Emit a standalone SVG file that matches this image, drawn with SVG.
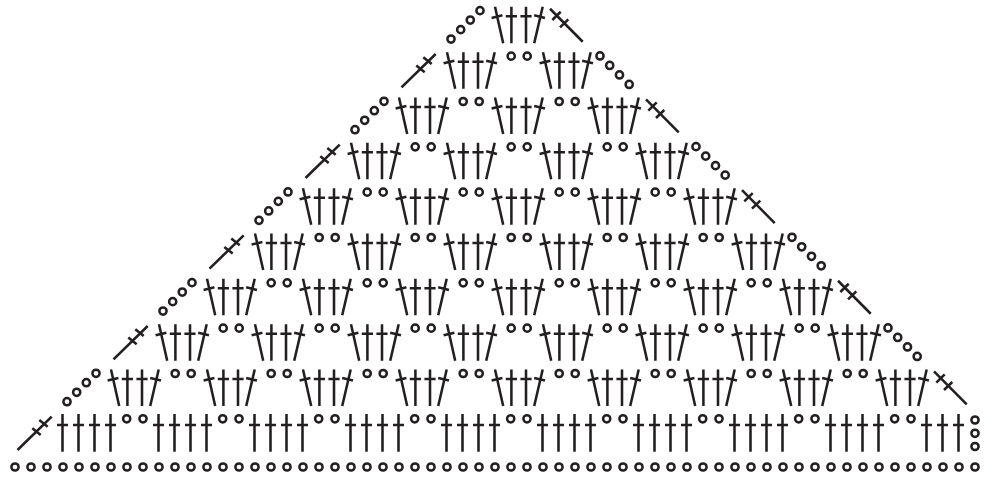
<svg xmlns="http://www.w3.org/2000/svg" width="999" height="478" viewBox="0 0 999 478">
<style>
.s{fill:none;stroke:#231f20;stroke-width:2.55}
circle{fill:none;stroke:#231f20;stroke-width:2.5}
</style>
<defs>
<circle id="c" r="3.6"/>
<g id="pair"><use href="#c" x="56" y="-32.5"/><use href="#c" x="72" y="-32.5"/></g>
<path id="grp" class="s" d="M0 0L-8.2-36.5M-11.6-25.4L-0.8-28M8.2 0V-36.5M2.6-27H13.8M22.8 0V-36.5M17.2-27H28.4M31 0L39.5-36.5M31-28L41.8-25.4"/>
<g id="lc"><use href="#c" x="-52.2" y="-4.3"/><use href="#c" x="-42.5" y="-13.7"/><use href="#c" x="-32.9" y="-23.3"/><use href="#c" x="-23.2" y="-32.7"/></g>
<path id="ld" class="s" d="M-53.7-1.3L-19.5-34.7M-38.9-23.1L-30.5-16.4M-31.9-31.4L-23.5-24.7"/>
<path id="rd" class="s" d="M46.8-34.6L79.5-1.6M49.1-23.3L57.5-31.6M56.8-16L65.1-24"/>
<g id="rc"><use href="#c" x="48.8" y="-32.7"/><use href="#c" x="58.5" y="-23.2"/><use href="#c" x="68.3" y="-13.7"/><use href="#c" x="78" y="-4.2"/></g>
<path id="v" class="s" d="M0 0V-37.7M-5.5-26.7H5.5"/>
<g id="four"><use href="#v" x="0"/><use href="#v" x="16"/><use href="#v" x="32"/><use href="#v" x="48"/><use href="#c" x="64.2" y="-32.9"/><use href="#c" x="80.5" y="-32.9"/></g>
<g id="c8"><use href="#c" x="0"/><use href="#c" x="16"/><use href="#c" x="32"/><use href="#c" x="48"/><use href="#c" x="64"/><use href="#c" x="80"/><use href="#c" x="96"/><use href="#c" x="112"/></g>
</defs>
<rect width="999" height="478" fill="#fff"/>
<g id="chain" transform="translate(15 467)">
<use href="#c8" x="0"/><use href="#c8" x="128"/><use href="#c8" x="256"/><use href="#c8" x="384"/><use href="#c8" x="512"/><use href="#c8" x="640"/><use href="#c8" x="768"/><use href="#c" x="896"/><use href="#c" x="912"/><use href="#c" x="928"/><use href="#c" x="944"/><use href="#c" x="960"/>
</g>
<g id="row-1" transform="translate(62.5 451.7)">
<path class="s" d="M-45-1.7L-10.8-35M-30.2-23.4L-21.8-16.7M-23.2-31.7L-14.8-25"/>
<use href="#four" x="0"/><use href="#four" x="96"/><use href="#four" x="192"/><use href="#four" x="288"/><use href="#four" x="384"/><use href="#four" x="480"/><use href="#four" x="576"/><use href="#four" x="672"/><use href="#four" x="768"/>
<use href="#v" x="864"/><use href="#v" x="880"/><use href="#v" x="896"/>
<use href="#c" x="912.5" y="-31.7"/><use href="#c" x="912.5" y="-18.4"/><use href="#c" x="912.5" y="-5.2"/>
</g>
<g id="row-2" transform="translate(119.2 406)">
<use href="#lc"/>
<use href="#grp" x="0"/><use href="#pair" x="0"/><use href="#grp" x="96"/><use href="#pair" x="96"/><use href="#grp" x="192"/><use href="#pair" x="192"/><use href="#grp" x="288"/><use href="#pair" x="288"/><use href="#grp" x="384"/><use href="#pair" x="384"/><use href="#grp" x="480"/><use href="#pair" x="480"/><use href="#grp" x="576"/><use href="#pair" x="576"/><use href="#grp" x="672"/><use href="#pair" x="672"/><use href="#grp" x="768"/>
<use href="#rd" x="768"/>
</g>
<g id="row-3" transform="translate(167.2 360.67)">
<use href="#ld"/>
<use href="#grp" x="0"/><use href="#pair" x="0"/><use href="#grp" x="96"/><use href="#pair" x="96"/><use href="#grp" x="192"/><use href="#pair" x="192"/><use href="#grp" x="288"/><use href="#pair" x="288"/><use href="#grp" x="384"/><use href="#pair" x="384"/><use href="#grp" x="480"/><use href="#pair" x="480"/><use href="#grp" x="576"/><use href="#pair" x="576"/><use href="#grp" x="672"/>
<use href="#rc" x="672"/>
</g>
<g id="row-4" transform="translate(215.2 315.33)">
<use href="#lc"/>
<use href="#grp" x="0"/><use href="#pair" x="0"/><use href="#grp" x="96"/><use href="#pair" x="96"/><use href="#grp" x="192"/><use href="#pair" x="192"/><use href="#grp" x="288"/><use href="#pair" x="288"/><use href="#grp" x="384"/><use href="#pair" x="384"/><use href="#grp" x="480"/><use href="#pair" x="480"/><use href="#grp" x="576"/>
<use href="#rd" x="576"/>
</g>
<g id="row-5" transform="translate(263.2 270)">
<use href="#ld"/>
<use href="#grp" x="0"/><use href="#pair" x="0"/><use href="#grp" x="96"/><use href="#pair" x="96"/><use href="#grp" x="192"/><use href="#pair" x="192"/><use href="#grp" x="288"/><use href="#pair" x="288"/><use href="#grp" x="384"/><use href="#pair" x="384"/><use href="#grp" x="480"/>
<use href="#rc" x="480"/>
</g>
<g id="row-6" transform="translate(311.2 224.67)">
<use href="#lc"/>
<use href="#grp" x="0"/><use href="#pair" x="0"/><use href="#grp" x="96"/><use href="#pair" x="96"/><use href="#grp" x="192"/><use href="#pair" x="192"/><use href="#grp" x="288"/><use href="#pair" x="288"/><use href="#grp" x="384"/>
<use href="#rd" x="384"/>
</g>
<g id="row-7" transform="translate(359.2 179.33)">
<use href="#ld"/>
<use href="#grp" x="0"/><use href="#pair" x="0"/><use href="#grp" x="96"/><use href="#pair" x="96"/><use href="#grp" x="192"/><use href="#pair" x="192"/><use href="#grp" x="288"/>
<use href="#rc" x="288"/>
</g>
<g id="row-8" transform="translate(407.2 134)">
<use href="#lc"/>
<use href="#grp" x="0"/><use href="#pair" x="0"/><use href="#grp" x="96"/><use href="#pair" x="96"/><use href="#grp" x="192"/>
<use href="#rd" x="192"/>
</g>
<g id="row-9" transform="translate(455.2 88.67)">
<use href="#ld"/>
<use href="#grp" x="0"/><use href="#pair" x="0"/><use href="#grp" x="96"/>
<use href="#rc" x="96"/>
</g>
<g id="row-10" transform="translate(503.2 43.33)">
<use href="#lc"/>
<use href="#grp" x="0"/>
<use href="#rd" x="0"/>
</g>
</svg>
